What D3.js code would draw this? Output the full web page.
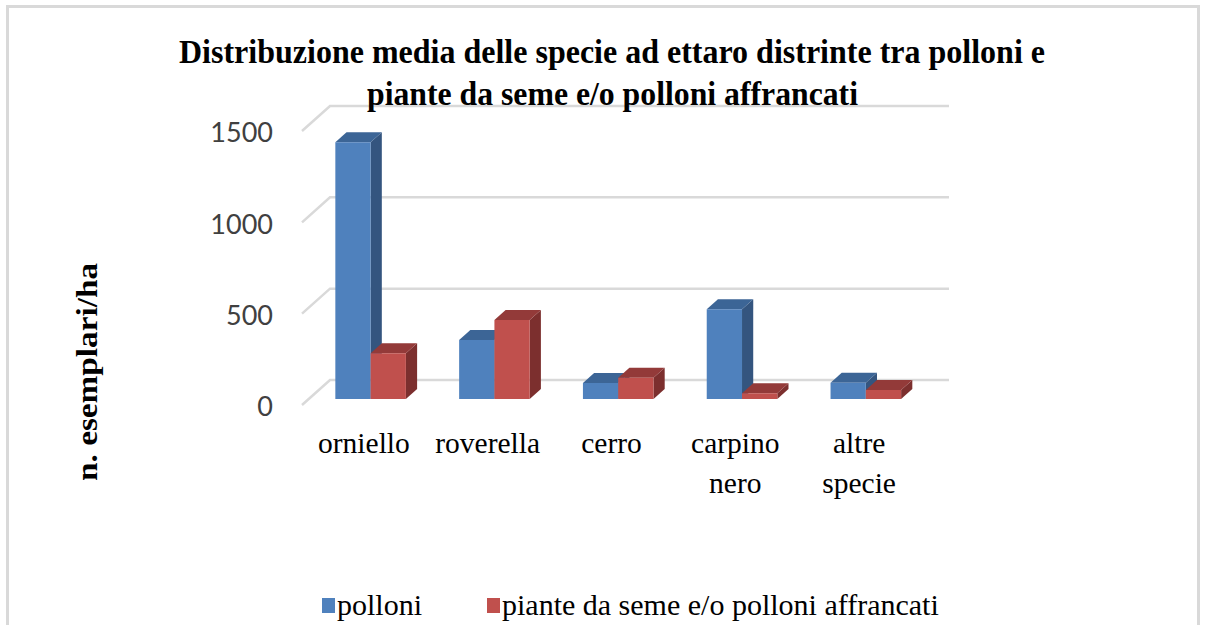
<!DOCTYPE html>
<html>
<head>
<meta charset="utf-8">
<script src="https://cdn.jsdelivr.net/npm/d3@7"></script>
<style>
  html, body { margin: 0; padding: 0; background: #ffffff; }
  svg { display: block; }
</style>
</head>
<body>
<svg id="chart" width="1208" height="625"></svg>
<script>
// ---- data ----
const categories = ["orniello", "roverella", "cerro", "carpino nero", "altre specie"];
const seriesNames = ["polloni", "piante da seme e/o polloni affrancati"];
const polloni = [1405, 323, 88, 491, 89];
const piante = [250, 432, 117, 31, 49];
const yTicks = [0, 500, 1000, 1500];
const titleLines = ["Distribuzione media delle specie ad ettaro distrinte tra polloni e",
                    "piante da seme e/o polloni affrancati"];
const yAxisTitle = "n. esemplari/ha";

// ---- layout ----
const svg = d3.select("#chart");
const DX = 28, DY = 25;           // full depth offset of the 3D box
const z0 = 0.24, z1 = 0.64;       // depth span of bars
const P = (px, py, z) => [px + z * DX, py - z * DY];

const x = d3.scaleBand().domain(categories).range([302, 921]).paddingInner(0.43).paddingOuter(0.215);
const xs = d3.scaleBand().domain(seriesNames).range([0, x.bandwidth()]);
const y = d3.scaleLinear().domain([0, 1500]).range([405, 131]);

const colors = {
  "polloni": { front: "#4f81bd", top: "#3c6596", side: "#34557f" },
  "piante da seme e/o polloni affrancati": { front: "#c0504d", top: "#933a39", side: "#7c2f2e" }
};

// outer border
svg.append("rect").attr("x", 7.5).attr("y", 6.5).attr("width", 1191).attr("height", 650)
  .attr("fill", "#fff").attr("stroke", "#d9d9d9").attr("stroke-width", 3);

// gridlines (back wall + left slanted)
const grid = svg.append("g").attr("stroke", "#d9d9d9").attr("stroke-width", 2.5).attr("fill", "none");
yTicks.forEach(v => {
  const a = P(x.range()[0], y(v), 0), b = P(x.range()[0], y(v), 1), c = P(x.range()[1], y(v), 1);
  grid.append("path").attr("d", d3.line()([a, b, c]));
});

// title
const title = svg.append("g").attr("font-family", "'Liberation Serif', 'Times New Roman', serif")
  .attr("font-weight", "bold").attr("font-size", 34).attr("fill", "#000");
title.append("text").attr("x", 179).attr("y", 63).attr("textLength", 866)
  .attr("lengthAdjust", "spacingAndGlyphs").text(titleLines[0]);
title.append("text").attr("x", 367).attr("y", 105).attr("textLength", 491)
  .attr("lengthAdjust", "spacingAndGlyphs").text(titleLines[1]);

// y axis
const yAxis = d3.axisLeft(y).tickValues(yTicks).tickSize(0).tickPadding(0).tickFormat(d3.format("d"));
const yg = svg.append("g").attr("transform", "translate(273,1)").call(yAxis);
yg.select(".domain").remove();
yg.selectAll("text").attr("font-family", "Lato, 'Open Sans', sans-serif").attr("font-size", 27)
  .attr("fill", "#404040").attr("dy", "0.36em");

// y axis title
svg.append("text").attr("transform", "translate(97,372) rotate(-90)")
  .attr("text-anchor", "middle").attr("font-family", "'Liberation Serif', 'Times New Roman', serif")
  .attr("font-weight", "bold").attr("font-size", 30).attr("fill", "#000")
  .attr("textLength", 218).attr("lengthAdjust", "spacingAndGlyphs").text(yAxisTitle);

// bars
const seriesData = [polloni, piante];
const bars = svg.append("g");
categories.forEach((cat, i) => {
  seriesNames.forEach((s, k) => {
    const v = seriesData[k][i];
    const xl = x(cat) + xs(s), xr = xl + xs.bandwidth();
    const yb = y(0), yt = y(v);
    const c = colors[s];
    const poly = pts => d3.line()(pts) + "Z";
    bars.append("path").attr("fill", c.side)
      .attr("d", poly([P(xr, yb, z0), P(xr, yb, z1), P(xr, yt, z1), P(xr, yt, z0)]));
    bars.append("path").attr("fill", c.top)
      .attr("d", poly([P(xl, yt, z0), P(xr, yt, z0), P(xr, yt, z1), P(xl, yt, z1)]));
    bars.append("path").attr("fill", c.front)
      .attr("d", poly([P(xl, yb, z0), P(xr, yb, z0), P(xr, yt, z0), P(xl, yt, z0)]));
  });
});

// x labels
const xl = svg.append("g").attr("font-family", "'Liberation Serif', 'Times New Roman', serif")
  .attr("font-size", 29.5).attr("fill", "#000").attr("text-anchor", "middle");
categories.forEach(cat => {
  const cx = x(cat) + x.bandwidth() / 2;
  const t = xl.append("text").attr("x", cx).attr("y", 453);
  cat.split(" ").forEach((w, j) => {
    t.append("tspan").attr("x", cx).attr("dy", j === 0 ? 0 : 40).text(w);
  });
});

// legend
const legendX = [322, 487];
const lg = svg.append("g").attr("font-family", "'Liberation Serif', 'Times New Roman', serif")
  .attr("font-size", 30).attr("fill", "#000");
seriesNames.forEach((s, k) => {
  lg.append("rect").attr("x", legendX[k]).attr("y", 598).attr("width", 13).attr("height", 15)
    .attr("fill", colors[s].front);
  lg.append("text").attr("x", legendX[k] + 15).attr("y", 615).text(s);
});
</script>
</body>
</html>
